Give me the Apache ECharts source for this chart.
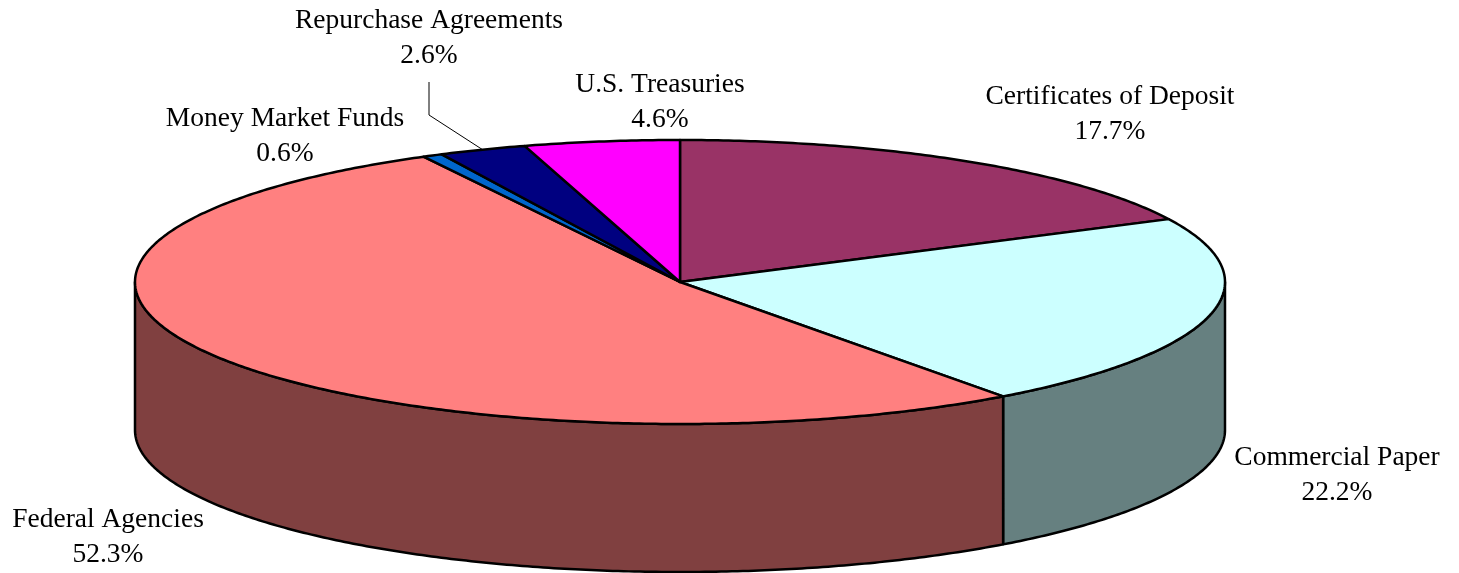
<!DOCTYPE html>
<html>
<head>
<meta charset="utf-8">
<script src="https://cdn.jsdelivr.net/npm/echarts@6/dist/echarts.min.js"></script>
<style>
  html, body { margin: 0; padding: 0; background: #fff; }
  #main { width: 1459px; height: 573px; }
</style>
</head>
<body>
<div id="main"></div>
<script>
  // data
  var categories = ['Certificates of Deposit', 'Commercial Paper', 'Federal Agencies',
    'Money Market Funds', 'Repurchase Agreements', 'U.S. Treasuries'];
  var shares = [17.7, 22.2, 52.3, 0.6, 2.6, 4.6];

  // look
  var topColors = ['#993366', '#CCFFFF', '#FF8080', '#0066CC', '#000080', '#FF00FF'];
  var sideColors = ['#4D1A33', '#668080', '#804040', '#003366', '#000040', '#800080'];
  var labelPos = [[1110, 114], [1337, 475], [108, 537], [285, 136], [429, 38], [660, 102]];
  var geo = {cx: 680, cy: 282, rx: 545, ry: 142, depth: 148};

  var total = shares.reduce(function (a, b) { return a + b; }, 0);
  var cum = [0];
  shares.forEach(function (v, i) { cum.push(cum[i] + v); });

  function pt(t, dy) {
    return [geo.cx + geo.rx * Math.sin(t), geo.cy - geo.ry * Math.cos(t) + (dy || 0)];
  }
  function arc(a, b, dy) {
    var n = Math.max(2, Math.ceil((b - a) / 0.01)), out = [];
    for (var k = 0; k <= n; k++) out.push(pt(a + (b - a) * k / n, dy));
    return out;
  }

  var chart = echarts.init(document.getElementById('main'));

  function renderItem(params, api) {
    var i = params.dataIndex;
    var a = cum[i] / total * Math.PI * 2;
    var b = cum[i + 1] / total * Math.PI * 2;
    var children = [];
    // side wall, front half only
    var sa = Math.max(a, Math.PI / 2), sb = Math.min(b, Math.PI * 1.5);
    if (sb > sa) {
      var pts = arc(sa, sb, 0).concat(arc(sa, sb, geo.depth).reverse());
      children.push({
        type: 'polygon', z2: 1, shape: {points: pts},
        style: {fill: sideColors[i], stroke: '#000', lineWidth: 2.5, lineJoin: 'round'}
      });
    }
    // top face
    children.push({
      type: 'polygon', z2: 2,
      shape: {points: [[geo.cx, geo.cy]].concat(arc(a, b, 0))},
      style: {fill: topColors[i], stroke: '#000', lineWidth: 2.5, lineJoin: 'round'}
    });
    // label
    var lp = labelPos[i];
    children.push({
      type: 'text', z2: 5, x: lp[0], y: lp[1],
      style: {
        text: categories[i] + '\n' + api.value(0).toFixed(1) + '%',
        fill: '#000', font: '27.5px "Liberation Serif", serif',
        align: 'center', verticalAlign: 'middle', lineHeight: 35
      }
    });
    if (i === 4) {
      var end = pt((a + b) / 2, 0);
      children.push({
        type: 'polyline', z2: 4,
        shape: {points: [[lp[0], lp[1] + 44], [lp[0], lp[1] + 77], end]},
        style: {stroke: '#000', lineWidth: 1, fill: null}
      });
    }
    return {type: 'group', children: children};
  }

  chart.setOption({
    animation: false,
    series: [{
      type: 'custom',
      coordinateSystem: 'none',
      renderItem: renderItem,
      data: shares.map(function (v) { return [v]; })
    }]
  });
</script>
</body>
</html>
